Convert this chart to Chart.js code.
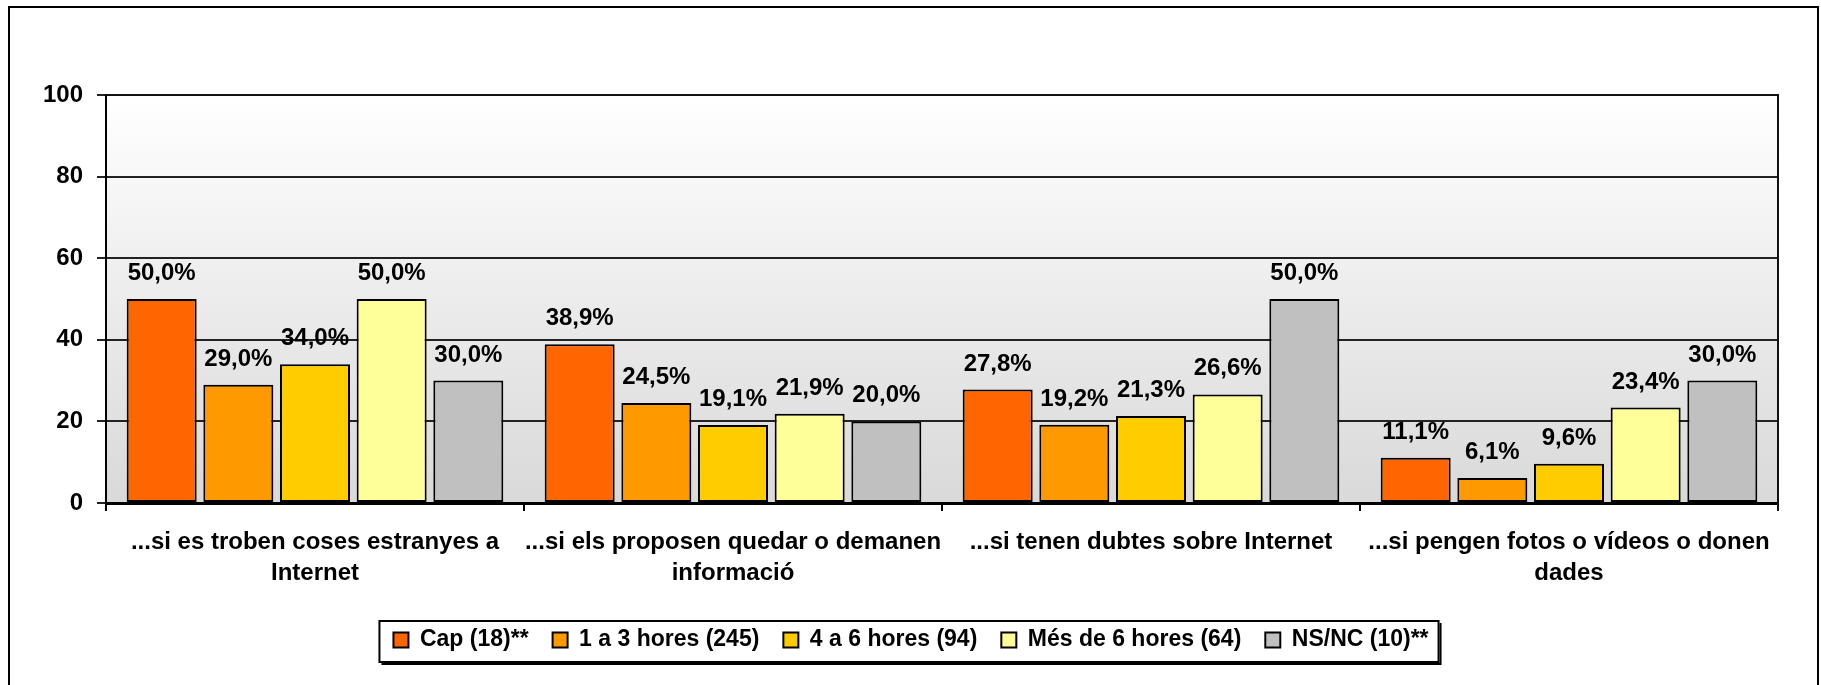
<!DOCTYPE html>
<html lang="ca">
<head>
    <meta charset="UTF-8">
    <title>Hores d'Internet</title>
    <script src="https://cdn.jsdelivr.net/npm/chart.js"></script>
    <style>
        body { margin: 0; background: #fff; }
        canvas { display: block; }
    </style>
</head>
<body>
    <canvas id="barChart" width="1821" height="685"></canvas>

    <script>
        const categories = [
            ['...si es troben coses estranyes a', 'Internet'],
            ['...si els proposen quedar o demanen', 'informació'],
            ['...si tenen dubtes sobre Internet'],
            ['...si pengen fotos o vídeos o donen', 'dades']
        ];
        const seriesNames = ['Cap (18)**', '1 a 3 hores (245)', '4 a 6 hores (94)', 'Més de 6 hores (64)', 'NS/NC (10)**'];
        const cap = [50.0, 38.9, 27.8, 11.1];
        const unaTres = [29.0, 24.5, 19.2, 6.1];
        const quatreSis = [34.0, 19.1, 21.3, 9.6];
        const mesSis = [50.0, 21.9, 26.6, 23.4];
        const nsnc = [30.0, 20.0, 50.0, 30.0];
        const colors = ['#FF6600', '#FF9900', '#FFCC00', '#FFFF99', '#C0C0C0'];

        const font = 'Liberation Sans, Arial, sans-serif';
        const legendPad = 24;

        // fons degradat, marc exterior
        const backdrop = {
            id: 'backdrop',
            afterUpdate(chart) {
                // la llegenda de l'original no queda centrada del tot
                chart.legend.left += 22;
                chart.legend.right += 22;
            },
            beforeDraw(chart) {
                const { ctx, chartArea: a } = chart;
                ctx.save();
                ctx.fillStyle = '#fff';
                ctx.fillRect(0, 0, chart.width, chart.height);
                const g = ctx.createLinearGradient(0, a.top, 0, a.bottom);
                g.addColorStop(0, '#ffffff');
                g.addColorStop(1, '#d9d9d9');
                ctx.fillStyle = g;
                ctx.fillRect(a.left, a.top, a.right - a.left, a.bottom - a.top);
                ctx.strokeStyle = '#000';
                ctx.lineWidth = 2;
                ctx.strokeRect(9, 7, 1809, 720);
                ctx.restore();
            },
            afterDraw(chart) {
                const { ctx, chartArea: a } = chart;
                ctx.save();
                ctx.strokeStyle = '#111';
                ctx.lineWidth = 2;
                ctx.beginPath();
                ctx.moveTo(a.left, a.top);
                ctx.lineTo(a.right, a.top);
                ctx.lineTo(a.right, a.bottom + 8);
                ctx.stroke();

                // caixa de la llegenda
                const lg = chart.legend;
                const lw = lg.lineWidths[0];
                const x0 = (lg.left + legendPad + lg.right - lw) / 2;
                const l = x0 - 14;
                const r = x0 + lw - legendPad + 10;
                const cy = lg.top + legendPad + 11.5;
                ctx.strokeStyle = '#000';
                ctx.strokeRect(l, cy - 19, r - l, 41);
                ctx.beginPath();
                ctx.moveTo(l + 2, cy + 24);
                ctx.lineTo(r + 2, cy + 24);
                ctx.lineTo(r + 2, cy - 17);
                ctx.stroke();
                ctx.restore();
            }
        };

        const valueLabels = {
            id: 'valueLabels',
            afterDatasetsDraw(chart) {
                const { ctx } = chart;
                ctx.save();
                ctx.font = 'bold 24px ' + font;
                ctx.fillStyle = '#000';
                ctx.textAlign = 'center';
                ctx.textBaseline = 'alphabetic';
                chart.data.datasets.forEach((ds, i) => {
                    chart.getDatasetMeta(i).data.forEach((bar, j) => {
                        const txt = ds.data[j].toFixed(1).replace('.', ',') + '%';
                        ctx.fillText(txt, bar.x, bar.y - 19);
                    });
                });
                ctx.restore();
            }
        };

        const series = [cap, unaTres, quatreSis, mesSis, nsnc];

        new Chart(document.getElementById('barChart'), {
            type: 'bar',
            data: {
                labels: categories,
                datasets: series.map((d, i) => ({
                    label: seriesNames[i],
                    data: d,
                    backgroundColor: colors[i],
                    borderColor: '#000',
                    borderWidth: 2,
                    borderSkipped: false,
                    categoryPercentage: 0.917,
                    barPercentage: 0.913
                }))
            },
            options: {
                responsive: false,
                animation: false,
                layout: { padding: { left: 0, top: 95, right: 43, bottom: 23.5 } },
                plugins: {
                    tooltip: { enabled: false },
                    legend: {
                        position: 'bottom',
                        labels: {
                            color: '#000',
                            font: { family: font, size: 23, weight: 'bold' },
                            boxWidth: 15,
                            boxHeight: 15,
                            padding: legendPad
                        }
                    }
                },
                scales: {
                    x: {
                        grid: {
                            drawOnChartArea: false,
                            drawTicks: true,
                            tickLength: 8,
                            color: '#000',
                            lineWidth: 2
                        },
                        border: { color: '#000', width: 3 },
                        ticks: {
                            color: '#000',
                            autoSkip: false,
                            maxRotation: 0,
                            minRotation: 0,
                            padding: 16,
                            font: { family: font, size: 24, weight: 'bold', lineHeight: 1.29 }
                        },
                        afterFit(scale) { scale.height = 101.5; }
                    },
                    y: {
                        min: 0,
                        max: 100,
                        grid: {
                            color: '#222',
                            lineWidth: 2,
                            tickLength: 9
                        },
                        border: { color: '#000', width: 2 },
                        ticks: {
                            stepSize: 20,
                            color: '#000',
                            padding: 14,
                            font: { family: font, size: 24, weight: 'bold' }
                        },
                        afterFit(scale) { scale.width = 106; }
                    }
                }
            },
            plugins: [backdrop, valueLabels]
        });
    </script>
</body>
</html>
